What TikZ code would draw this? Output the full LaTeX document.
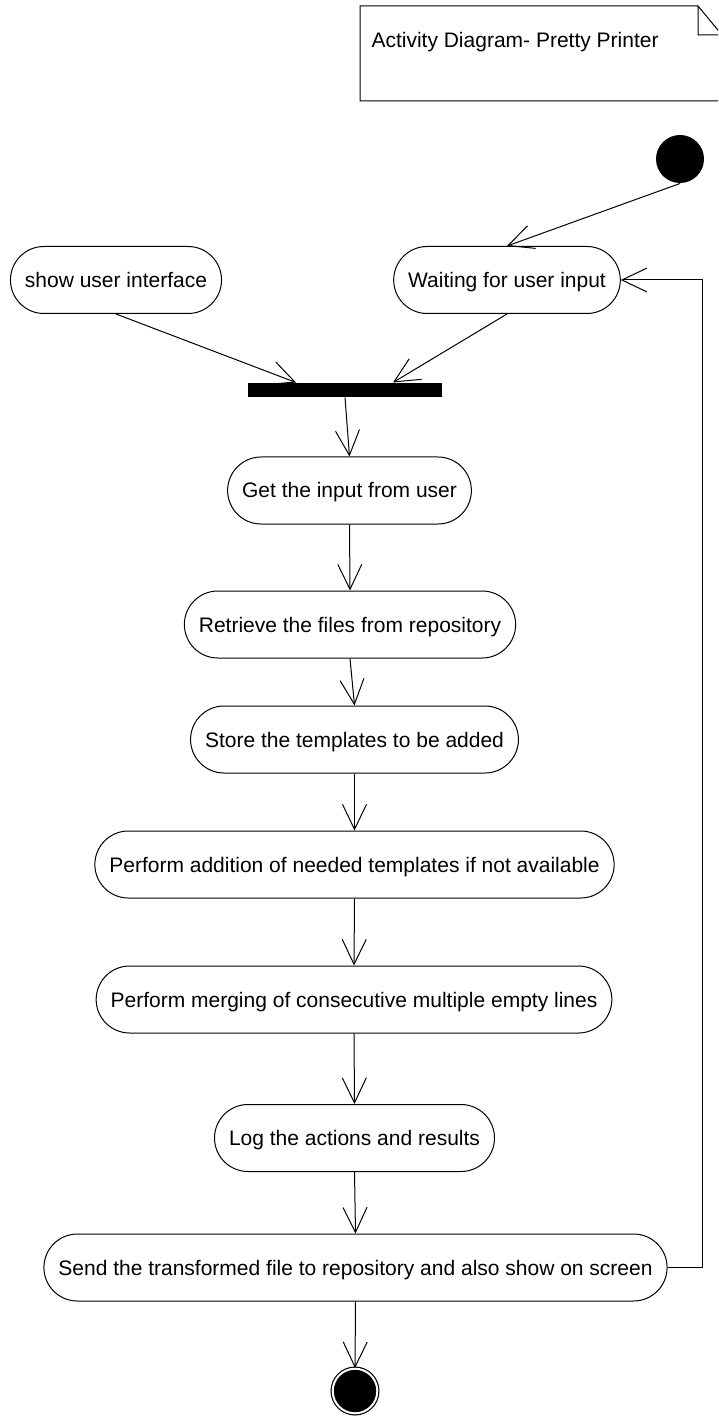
\documentclass[tikz,border=0pt]{standalone}
\usepackage{fontspec}
\setmainfont{Liberation Sans}
\usetikzlibrary{arrows.meta}

\begin{document}
\begin{tikzpicture}[x=0.5pt, y=-0.5pt, line width=0.5pt,
    every node/.style={font=\fontsize{10.5}{12.6}\selectfont},
    activity/.style={draw, rounded corners=16.75pt, minimum height=33.5pt, inner xsep=7.25pt, text height=7.5pt, text depth=0pt},
    flow/.style={-{Straight Barb[length=12.5pt, width=12pt]}}]
    \fill[white] (0, 0) rectangle (718, 1416);
    \useasboundingbox (0, 0) rectangle (718, 1416);
    \clip (0, 0) rectangle (718, 1416);
    \draw (698, 6) to (360, 6) to (360, 101) to (722, 101) to (722, 35) to (698, 6) to (698, 35) to (722, 35);
    \node[anchor=base west, inner sep=0] (title) at (371, 48) {Activity Diagram- Pretty Printer};
    \node[circle, fill, minimum size=24pt, inner sep=0] (start) at (680, 159) {};
    \node[activity] (show) at (116, 280) {show user interface};
    \node[activity] (wait) at (507, 280) {Waiting for user input};
    \node[fill, minimum width=97pt, minimum height=7pt, inner sep=0] (bar) at (345, 390) {};
    \node[activity] (get) at (349.5, 490.5) {Get the input from user};
    \node[activity] (retrieve) at (350, 624.5) {Retrieve the files from repository};
    \node[activity] (store) at (354.5, 739.5) {Store the templates to be added};
    \node[activity] (addition) at (354.5, 864.5) {Perform addition of needed templates if not available};
    \node[activity] (merging) at (354, 999.5) {Perform merging of consecutive multiple empty lines};
    \node[activity] (log) at (354.5, 1138) {Log the actions and results};
    \node[activity] (send) at (355.5, 1267.5) {Send the transformed file to repository and also show on screen};
    \node[circle, fill, draw, line width=0.6pt, double=white, double distance=1pt, minimum size=22.3pt, inner sep=0] (end) at (355, 1391) {};
    \draw[flow] (start.south) to (wait.north);
    \draw[flow] (show.south) to ([xshift=-24.5pt]bar.north);
    \draw[flow] (wait.south) to ([xshift=24pt]bar.north);
    \draw[flow] (bar.south) to (get.north);
    \draw[flow] (get.south) to (retrieve.north);
    \draw[flow] (retrieve.south) to (store.north);
    \draw[flow] (store.south) to (addition.north);
    \draw[flow] (addition.south) to (merging.north);
    \draw[flow] (merging.south) to (log.north);
    \draw[flow] (log.south) to (send.north);
    \draw[flow] (send.south) to (end.north);
    \draw[flow] (send.east) -- ++(35, 0) |- (wait.east);
\end{tikzpicture}
\end{document}
